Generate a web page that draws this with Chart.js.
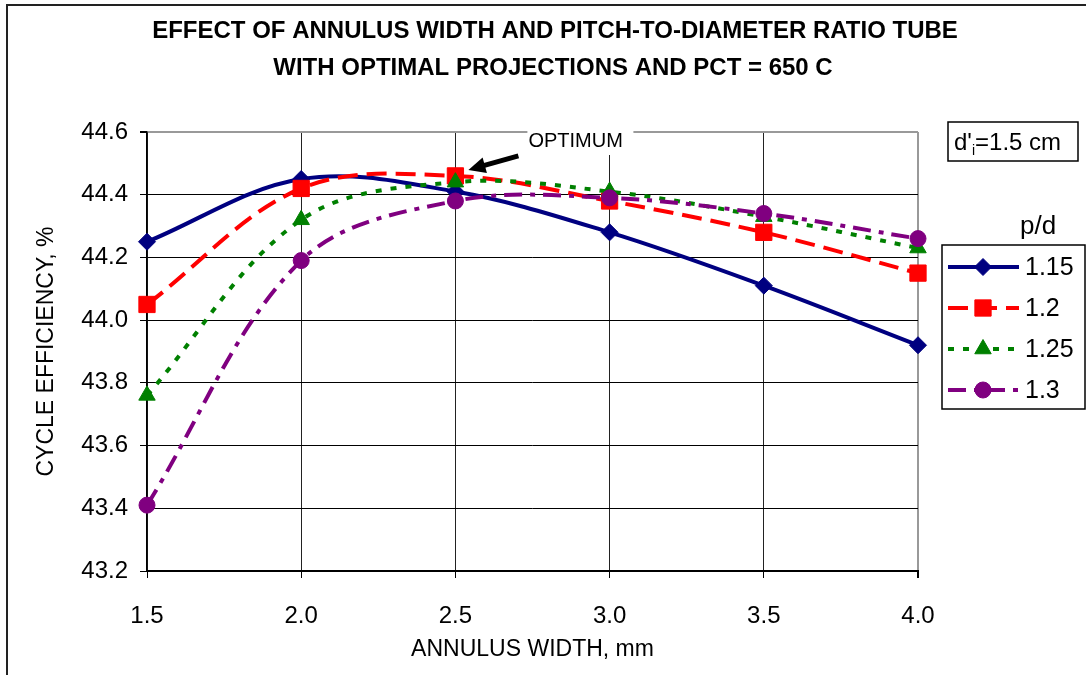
<!DOCTYPE html>
<html>
<head>
<meta charset="utf-8">
<title>Cycle efficiency vs annulus width</title>
<script src="https://cdn.jsdelivr.net/npm/chart.js@4.4.1/dist/chart.umd.min.js"></script>
<style>
  html, body { margin: 0; padding: 0; background: #fff; }
</style>
</head>
<body>
<canvas id="effChart" width="1086" height="675"></canvas>
<script>
// Datos: eficiencia del ciclo (%) vs ancho del anulo (mm), una serie por p/d
const annulusWidth = [1.5, 2.0, 2.5, 3.0, 3.5, 4.0];
const effPd115 = [44.25, 44.45, 44.41, 44.28, 44.11, 43.92];
const effPd120 = [44.05, 44.42, 44.46, 44.38, 44.28, 44.15];
const effPd125 = [43.76, 44.32, 44.44, 44.41, 44.33, 44.23];
const effPd130 = [43.41, 44.19, 44.38, 44.39, 44.34, 44.26];
const pdLabels = ['1.15', '1.2', '1.25', '1.3'];

const chartTitle = [
  'EFFECT OF ANNULUS WIDTH AND PITCH-TO-DIAMETER RATIO TUBE',
  'WITH OPTIMAL PROJECTIONS AND PCT = 650 C'
];
const optimumLabel = 'OPTIMUM';
const optimumAt = { x: 2.5, y: 44.46 };

const FONT = '"Liberation Sans", Arial, sans-serif';

const toXY = (vals) => vals.map((v, i) => ({ x: annulusWidth[i], y: v }));

// Título, recuadro d'i, flecha de óptimo y leyenda propia
const decorPlugin = {
  id: 'decor',
  beforeDraw(chart) {
    const ctx = chart.ctx;
    ctx.save();
    ctx.fillStyle = '#fff';
    ctx.fillRect(0, 0, chart.width, chart.height);
    ctx.strokeStyle = '#222';
    ctx.lineWidth = 2;
    ctx.strokeRect(7, 5, chart.width + 20, chart.height + 20);
    ctx.restore();
  },
  afterDraw(chart) {
    const ctx = chart.ctx;
    const xs = chart.scales.x;
    const ys = chart.scales.y;

    // título
    ctx.save();
    ctx.fillStyle = '#000';
    ctx.font = 'bold 24px ' + FONT;
    ctx.textAlign = 'center';
    ctx.textBaseline = 'middle';
    ctx.fillText(chartTitle[0], 555, 31);
    ctx.fillText(chartTitle[1], 553, 68);
    ctx.restore();

    // OPTIMUM con flecha
    const px = xs.getPixelForValue(optimumAt.x);
    const py = ys.getPixelForValue(optimumAt.y);
    ctx.save();
    ctx.fillStyle = '#fff';
    ctx.fillRect(px + 72, 123, 106, 32);
    ctx.fillStyle = '#000';
    ctx.font = '20px ' + FONT;
    ctx.textAlign = 'left';
    ctx.textBaseline = 'middle';
    ctx.fillText(optimumLabel, px + 73, 141);
    const hx = px + 13, hy = py - 6;
    const tx = px + 63, ty = py - 20;
    const ang = Math.atan2(hy - ty, hx - tx);
    ctx.strokeStyle = '#000';
    ctx.lineWidth = 5;
    ctx.beginPath();
    ctx.moveTo(tx, ty);
    ctx.lineTo(hx - 12 * Math.cos(ang), hy - 12 * Math.sin(ang));
    ctx.stroke();
    ctx.beginPath();
    ctx.moveTo(hx, hy);
    ctx.lineTo(hx - 17 * Math.cos(ang) + 8 * Math.sin(ang), hy - 17 * Math.sin(ang) - 8 * Math.cos(ang));
    ctx.lineTo(hx - 17 * Math.cos(ang) - 8 * Math.sin(ang), hy - 17 * Math.sin(ang) + 8 * Math.cos(ang));
    ctx.closePath();
    ctx.fill();
    ctx.restore();

    // recuadro d'i = 1.5 cm
    ctx.save();
    ctx.fillStyle = '#fff';
    ctx.fillRect(948, 122, 130, 39);
    ctx.strokeStyle = '#000';
    ctx.lineWidth = 1.5;
    ctx.strokeRect(948, 122, 130, 39);
    ctx.fillStyle = '#000';
    ctx.textBaseline = 'alphabetic';
    ctx.textAlign = 'left';
    ctx.font = '24px ' + FONT;
    let cx = 954;
    ctx.fillText("d'", cx, 150);
    cx += ctx.measureText("d'").width;
    ctx.font = '14px ' + FONT;
    ctx.fillText('i', cx, 155);
    cx += ctx.measureText('i').width;
    ctx.font = '24px ' + FONT;
    ctx.fillText('=1.5 cm', cx, 150);
    ctx.restore();

    // leyenda
    ctx.save();
    ctx.fillStyle = '#000';
    ctx.font = '26px ' + FONT;
    ctx.textAlign = 'left';
    ctx.textBaseline = 'middle';
    ctx.fillText('p/d', 1020, 227);
    ctx.fillStyle = '#fff';
    ctx.fillRect(942, 245, 143, 164);
    ctx.strokeStyle = '#000';
    ctx.lineWidth = 1.5;
    ctx.strokeRect(942, 245, 143, 164);
    chart.data.datasets.forEach((ds, i) => {
      const y = 267 + i * 41;
      ctx.save();
      ctx.strokeStyle = ds.borderColor;
      ctx.lineWidth = ds.borderWidth;
      ctx.setLineDash(ds.borderDash || []);
      ctx.beginPath();
      ctx.moveTo(948, y);
      ctx.lineTo(1019, y);
      ctx.stroke();
      ctx.setLineDash([]);
      ctx.fillStyle = ds.pointBackgroundColor;
      ctx.strokeStyle = ds.pointBorderColor;
      ctx.lineWidth = 1;
      Chart.helpers.drawPoint(ctx, { pointStyle: ds.pointStyle, radius: ds.pointRadius, borderWidth: 1, rotation: 0 }, 983, y);
      ctx.restore();
      ctx.fillStyle = '#000';
      ctx.font = '25px ' + FONT;
      ctx.fillText(ds.label, 1025, y + 1);
    });
    ctx.restore();
  }
};

function makeSeries(label, data, color, dash, style, radius, order) {
  return {
    label: label,
    data: toXY(data),
    borderColor: color,
    backgroundColor: color,
    borderWidth: 4,
    borderDash: dash,
    borderCapStyle: 'butt',
    tension: 0.35,
    clip: false,
    pointStyle: style,
    pointRadius: radius,
    pointHoverRadius: radius,
    pointBackgroundColor: color,
    pointBorderColor: color,
    pointBorderWidth: 1,
    order: order
  };
}

const ctx = document.getElementById('effChart').getContext('2d');

const effChart = new Chart(ctx, {
  type: 'line',
  data: {
    datasets: [
      makeSeries(pdLabels[0], effPd115, '#000080', [], 'rectRot', 8.5, 4),
      makeSeries(pdLabels[1], effPd120, '#ff0000', [20, 9], 'rect', 11.5, 3),
      makeSeries(pdLabels[2], effPd125, '#008000', [6, 9], 'triangle', 9.5, 2),
      makeSeries(pdLabels[3], effPd130, '#800080', [18, 8, 5, 8], 'circle', 8, 1)
    ]
  },
  options: {
    responsive: false,
    animation: false,
    layout: { padding: { top: 132, right: 168, left: 0, bottom: 0 } },
    plugins: {
      legend: { display: false },
      title: { display: false },
      tooltip: { enabled: false }
    },
    scales: {
      x: {
        type: 'linear',
        min: 1.5,
        max: 4.0,
        afterFit: (s) => { s.height = 104; },
        ticks: {
          stepSize: 0.5,
          color: '#000',
          padding: 24,
          font: { family: FONT, size: 24 },
          callback: (v) => v.toFixed(1)
        },
        grid: {
          color: (c) => (c.tick && c.tick.value === 4.0 ? '#999' : '#222'),
          lineWidth: (c) => (c.tick && c.tick.value === 4.0 ? 2 : 1),
          tickLength: 7,
          tickColor: '#000'
        },
        border: { color: '#000', width: 2 },
        title: {
          display: true,
          text: 'ANNULUS WIDTH, mm',
          color: '#000',
          font: { family: FONT, size: 23 },
          padding: { top: 0, bottom: 12 }
        }
      },
      y: {
        min: 43.2,
        max: 44.6,
        afterFit: (s) => { s.width = 147; },
        ticks: {
          stepSize: 0.2,
          color: '#000',
          padding: 12,
          font: { family: FONT, size: 24 },
          callback: (v) => v.toFixed(1)
        },
        grid: {
          color: (c) => (c.tick && Math.abs(c.tick.value - 44.6) < 1e-6 ? '#999' : '#000'),
          lineWidth: (c) => (c.tick && Math.abs(c.tick.value - 44.6) < 1e-6 ? 2 : 1),
          tickLength: 7,
          tickColor: '#000'
        },
        border: { color: '#000', width: 1.5 },
        title: {
          display: true,
          text: 'CYCLE EFFICIENCY, %',
          color: '#000',
          font: { family: FONT, size: 23 },
          padding: { top: 33, bottom: 0 }
        }
      }
    }
  },
  plugins: [decorPlugin]
});
</script>
</body>
</html>
